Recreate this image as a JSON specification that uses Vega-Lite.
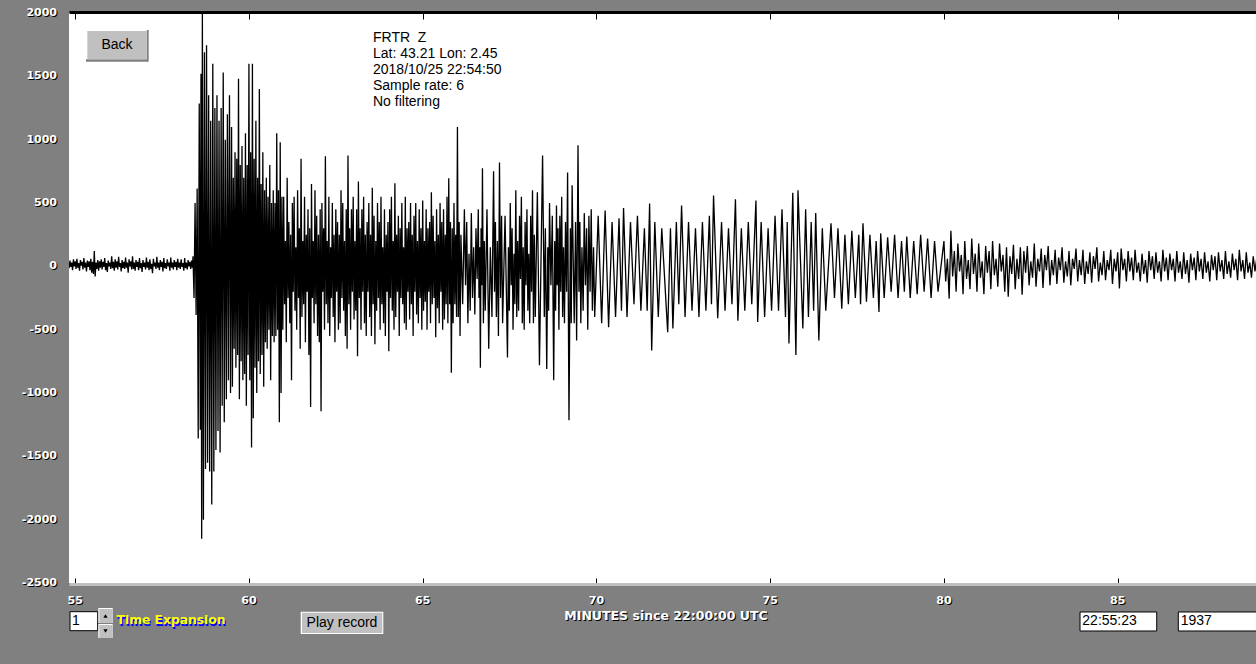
{
"$schema": "https://vega.github.io/schema/vega-lite/v6.json",
"autosize": {"type": "none"},
"padding": {"left": 69, "top": 13, "right": 0, "bottom": 81},
"width": 1187,
"height": 570,
"background": "#808080",
"config": {"view": {"fill": "#ffffff", "stroke": null}},
"datasets": {
"trace": [
{"t":54.8,"v":20},{"t":54.825,"v":-15},{"t":54.85,"v":45},{"t":54.875,"v":-5},{"t":54.9,"v":30},{"t":54.925,"v":-30},{"t":54.95,"v":55},{"t":54.975,"v":0},{"t":55.0,"v":40},{"t":55.025,"v":-20},{"t":55.05,"v":60},{"t":55.075,"v":-10},{"t":55.1,"v":25},{"t":55.125,"v":-35},{"t":55.15,"v":50},{"t":55.175,"v":5},{"t":55.2,"v":35},{"t":55.225,"v":-25},{"t":55.25,"v":65},{"t":55.275,"v":-10},{"t":55.3,"v":30},{"t":55.325,"v":-40},{"t":55.35,"v":45},{"t":55.375,"v":-5},{"t":55.4,"v":40},{"t":55.425,"v":-30},{"t":55.45,"v":60},{"t":55.475,"v":-50},{"t":55.5,"v":35},{"t":55.525,"v":-60},{"t":55.55,"v":120},{"t":55.575,"v":-80},{"t":55.6,"v":30},{"t":55.625,"v":-20},{"t":55.65,"v":50},{"t":55.675,"v":-35},{"t":55.7,"v":40},{"t":55.725,"v":-10},{"t":55.75,"v":55},{"t":55.775,"v":-25},{"t":55.8,"v":35},{"t":55.825,"v":-5},{"t":55.85,"v":65},{"t":55.875,"v":-30},{"t":55.9,"v":25},{"t":55.925,"v":-45},{"t":55.95,"v":45},{"t":55.975,"v":0},{"t":56.0,"v":30},{"t":56.025,"v":-20},{"t":56.05,"v":80},{"t":56.075,"v":-15},{"t":56.1,"v":35},{"t":56.125,"v":-35},{"t":56.15,"v":55},{"t":56.175,"v":-10},{"t":56.2,"v":40},{"t":56.225,"v":-25},{"t":56.25,"v":75},{"t":56.275,"v":-5},{"t":56.3,"v":25},{"t":56.325,"v":-40},{"t":56.35,"v":50},{"t":56.375,"v":-15},{"t":56.4,"v":35},{"t":56.425,"v":-20},{"t":56.45,"v":70},{"t":56.475,"v":-10},{"t":56.5,"v":30},{"t":56.525,"v":-50},{"t":56.55,"v":55},{"t":56.575,"v":0},{"t":56.6,"v":40},{"t":56.625,"v":-25},{"t":56.65,"v":80},{"t":56.675,"v":-20},{"t":56.7,"v":30},{"t":56.725,"v":-35},{"t":56.75,"v":50},{"t":56.775,"v":-5},{"t":56.8,"v":35},{"t":56.825,"v":-30},{"t":56.85,"v":65},{"t":56.875,"v":-15},{"t":56.9,"v":25},{"t":56.925,"v":-45},{"t":56.95,"v":50},{"t":56.975,"v":-5},{"t":57.0,"v":30},{"t":57.025,"v":-25},{"t":57.05,"v":70},{"t":57.075,"v":-10},{"t":57.1,"v":35},{"t":57.125,"v":-30},{"t":57.15,"v":55},{"t":57.175,"v":-20},{"t":57.2,"v":20},{"t":57.225,"v":-55},{"t":57.25,"v":60},{"t":57.275,"v":0},{"t":57.3,"v":30},{"t":57.325,"v":-20},{"t":57.35,"v":75},{"t":57.375,"v":-10},{"t":57.4,"v":30},{"t":57.425,"v":-30},{"t":57.45,"v":50},{"t":57.475,"v":-5},{"t":57.5,"v":35},{"t":57.525,"v":-40},{"t":57.55,"v":65},{"t":57.575,"v":-15},{"t":57.6,"v":25},{"t":57.625,"v":-20},{"t":57.65,"v":55},{"t":57.675,"v":0},{"t":57.7,"v":30},{"t":57.725,"v":-35},{"t":57.75,"v":70},{"t":57.775,"v":-10},{"t":57.8,"v":30},{"t":57.825,"v":-25},{"t":57.85,"v":50},{"t":57.875,"v":-5},{"t":57.9,"v":35},{"t":57.925,"v":-30},{"t":57.95,"v":60},{"t":57.975,"v":-10},{"t":58.0,"v":30},{"t":58.025,"v":-20},{"t":58.05,"v":55},{"t":58.075,"v":-5},{"t":58.1,"v":25},{"t":58.125,"v":-35},{"t":58.15,"v":65},{"t":58.175,"v":-15},{"t":58.2,"v":30},{"t":58.225,"v":-25},{"t":58.25,"v":50},{"t":58.275,"v":0},{"t":58.3,"v":35},{"t":58.325,"v":-20},{"t":58.35,"v":45},{"t":58.375,"v":-10},
{"t":58.39,"v":80},{"t":58.42,"v":-250},{"t":58.45,"v":500},{"t":58.48,"v":-385},{"t":58.51,"v":615},{"t":58.54,"v":-1360},{"t":58.57,"v":1285},{"t":58.6,"v":-1290},{"t":58.62,"v":1520},{"t":58.64,"v":-2150},{"t":58.66,"v":2000},{"t":58.69,"v":-2000},{"t":58.72,"v":1690},{"t":58.75,"v":-1600},{"t":58.78,"v":1745},{"t":58.81,"v":-1550},{"t":58.84,"v":1350},{"t":58.87,"v":-1620},{"t":58.9,"v":1150},{"t":58.93,"v":-1880},{"t":58.96,"v":1600},{"t":58.99,"v":-1620},{"t":59.02,"v":1250},{"t":59.05,"v":-1450},{"t":59.08,"v":1350},{"t":59.11,"v":-1300},{"t":59.14,"v":1150},{"t":59.17,"v":-1470},{"t":59.2,"v":1250},{"t":59.23,"v":-1100},{"t":59.26,"v":1530},{"t":59.29,"v":-1230},{"t":59.32,"v":1000},{"t":59.35,"v":-1050},{"t":59.38,"v":1200},{"t":59.41,"v":-900},{"t":59.44,"v":1350},{"t":59.47,"v":-1000},
{"t":59.5,"v":1100},{"t":59.525,"v":-950},{"t":59.55,"v":700},{"t":59.575,"v":-650},{"t":59.6,"v":900},{"t":59.625,"v":-800},{"t":59.65,"v":850},{"t":59.675,"v":-700},{"t":59.7,"v":1480},{"t":59.725,"v":-1050},{"t":59.75,"v":800},{"t":59.775,"v":-750},{"t":59.8,"v":950},{"t":59.825,"v":-900},{"t":59.85,"v":700},{"t":59.875,"v":-850},{"t":59.9,"v":1050},{"t":59.925,"v":-1100},{"t":59.95,"v":800},{"t":59.975,"v":-700},
{"t":60.0,"v":1600},{"t":60.025,"v":-900},{"t":60.05,"v":900},{"t":60.075,"v":-1430},{"t":60.1,"v":1600},{"t":60.125,"v":-1200},{"t":60.15,"v":850},{"t":60.175,"v":-800},{"t":60.2,"v":1150},{"t":60.225,"v":-1000},{"t":60.25,"v":700},{"t":60.275,"v":-750},{"t":60.3,"v":1400},{"t":60.325,"v":-850},{"t":60.35,"v":650},{"t":60.375,"v":-700},{"t":60.4,"v":900},{"t":60.425,"v":-950},{"t":60.45,"v":600},{"t":60.475,"v":-600},{"t":60.5,"v":700},{"t":60.525,"v":-650},{"t":60.55,"v":550},{"t":60.575,"v":-500},{"t":60.6,"v":800},{"t":60.625,"v":-900},{"t":60.65,"v":500},{"t":60.675,"v":-550},{"t":60.7,"v":600},{"t":60.725,"v":-600},{"t":60.75,"v":500},{"t":60.775,"v":-550},{"t":60.8,"v":1050},{"t":60.825,"v":-500},{"t":60.85,"v":600},{"t":60.875,"v":-1230},{"t":60.9,"v":980},{"t":60.925,"v":-1000},{"t":60.95,"v":550},{"t":60.975,"v":-500},
{"t":61.0,"v":550},{"t":61.025,"v":-300},{"t":61.05,"v":200},{"t":61.075,"v":-600},{"t":61.1,"v":700},{"t":61.125,"v":-250},{"t":61.15,"v":350},{"t":61.175,"v":-450},{"t":61.2,"v":250},{"t":61.225,"v":-900},{"t":61.25,"v":500},{"t":61.275,"v":-200},{"t":61.3,"v":550},{"t":61.325,"v":-350},{"t":61.35,"v":150},{"t":61.375,"v":-500},{"t":61.4,"v":600},{"t":61.425,"v":-250},{"t":61.45,"v":300},{"t":61.475,"v":-650},{"t":61.5,"v":850},{"t":61.525,"v":-400},{"t":61.55,"v":200},{"t":61.575,"v":-300},{"t":61.6,"v":550},{"t":61.625,"v":-600},{"t":61.65,"v":250},{"t":61.675,"v":-200},{"t":61.7,"v":450},{"t":61.725,"v":-700},{"t":61.75,"v":300},{"t":61.775,"v":-1110},{"t":61.8,"v":650},{"t":61.825,"v":-250},{"t":61.85,"v":200},{"t":61.875,"v":-450},{"t":61.9,"v":600},{"t":61.925,"v":-300},{"t":61.95,"v":400},{"t":61.975,"v":-550},
{"t":62.0,"v":250},{"t":62.025,"v":-600},{"t":62.05,"v":450},{"t":62.075,"v":-1145},{"t":62.1,"v":500},{"t":62.125,"v":-200},{"t":62.15,"v":300},{"t":62.175,"v":-500},{"t":62.2,"v":870},{"t":62.225,"v":-300},{"t":62.25,"v":200},{"t":62.275,"v":-450},{"t":62.3,"v":550},{"t":62.325,"v":-550},{"t":62.35,"v":150},{"t":62.375,"v":-250},{"t":62.4,"v":500},{"t":62.425,"v":-400},{"t":62.45,"v":250},{"t":62.475,"v":-600},{"t":62.5,"v":450},{"t":62.525,"v":-200},{"t":62.55,"v":350},{"t":62.575,"v":-500},{"t":62.6,"v":250},{"t":62.625,"v":-450},{"t":62.65,"v":600},{"t":62.675,"v":-250},{"t":62.7,"v":500},{"t":62.725,"v":-350},{"t":62.75,"v":200},{"t":62.775,"v":-550},{"t":62.8,"v":450},{"t":62.825,"v":-650},{"t":62.85,"v":875},{"t":62.875,"v":-300},{"t":62.9,"v":300},{"t":62.925,"v":-500},{"t":62.95,"v":450},{"t":62.975,"v":-200},
{"t":63.0,"v":550},{"t":63.025,"v":-420},{"t":63.05,"v":200},{"t":63.075,"v":-350},{"t":63.1,"v":450},{"t":63.125,"v":-710},{"t":63.15,"v":670},{"t":63.175,"v":-250},{"t":63.2,"v":300},{"t":63.225,"v":-500},{"t":63.25,"v":450},{"t":63.275,"v":-200},{"t":63.3,"v":550},{"t":63.325,"v":-450},{"t":63.35,"v":250},{"t":63.375,"v":-550},{"t":63.4,"v":350},{"t":63.425,"v":-200},{"t":63.45,"v":500},{"t":63.475,"v":-400},{"t":63.5,"v":250},{"t":63.525,"v":-550},{"t":63.55,"v":620},{"t":63.575,"v":-300},{"t":63.6,"v":400},{"t":63.625,"v":-615},{"t":63.65,"v":200},{"t":63.675,"v":-350},{"t":63.7,"v":500},{"t":63.725,"v":-250},{"t":63.75,"v":350},{"t":63.775,"v":-500},{"t":63.8,"v":550},{"t":63.825,"v":-300},{"t":63.85,"v":150},{"t":63.875,"v":-450},{"t":63.9,"v":450},{"t":63.925,"v":-550},{"t":63.95,"v":250},{"t":63.975,"v":-200},
{"t":64.0,"v":350},{"t":64.025,"v":-670},{"t":64.05,"v":450},{"t":64.075,"v":-250},{"t":64.1,"v":550},{"t":64.125,"v":-350},{"t":64.15,"v":200},{"t":64.175,"v":-500},{"t":64.2,"v":655},{"t":64.225,"v":-400},{"t":64.25,"v":250},{"t":64.275,"v":-200},{"t":64.3,"v":400},{"t":64.325,"v":-550},{"t":64.35,"v":300},{"t":64.375,"v":-250},{"t":64.4,"v":500},{"t":64.425,"v":-300},{"t":64.45,"v":150},{"t":64.475,"v":-450},{"t":64.5,"v":550},{"t":64.525,"v":-500},{"t":64.55,"v":300},{"t":64.575,"v":-200},{"t":64.6,"v":350},{"t":64.625,"v":-420},{"t":64.65,"v":500},{"t":64.675,"v":-300},{"t":64.7,"v":250},{"t":64.725,"v":-550},{"t":64.75,"v":400},{"t":64.775,"v":-200},{"t":64.8,"v":500},{"t":64.825,"v":-380},{"t":64.85,"v":200},{"t":64.875,"v":-450},{"t":64.9,"v":450},{"t":64.925,"v":-250},{"t":64.95,"v":300},{"t":64.975,"v":-500},
{"t":65.0,"v":520},{"t":65.025,"v":-350},{"t":65.05,"v":200},{"t":65.075,"v":-280},{"t":65.1,"v":450},{"t":65.125,"v":-500},{"t":65.15,"v":300},{"t":65.175,"v":-200},{"t":65.2,"v":350},{"t":65.225,"v":-450},{"t":65.25,"v":585},{"t":65.275,"v":-300},{"t":65.3,"v":400},{"t":65.325,"v":-250},{"t":65.35,"v":200},{"t":65.375,"v":-560},{"t":65.4,"v":450},{"t":65.425,"v":-330},{"t":65.45,"v":250},{"t":65.475,"v":-450},{"t":65.5,"v":500},{"t":65.525,"v":-200},{"t":65.55,"v":350},{"t":65.575,"v":-500},{"t":65.6,"v":450},{"t":65.625,"v":-420},{"t":65.65,"v":250},{"t":65.675,"v":-300},{"t":65.7,"v":550},{"t":65.725,"v":-450},{"t":65.75,"v":695},{"t":65.775,"v":-300},{"t":65.8,"v":350},{"t":65.825,"v":-840},{"t":65.85,"v":300},{"t":65.875,"v":-450},{"t":65.9,"v":500},{"t":65.925,"v":-300},{"t":65.95,"v":250},{"t":65.975,"v":-400},
{"t":66.0,"v":1100},{"t":66.025,"v":-400},{"t":66.05,"v":350},{"t":66.075,"v":-550},{"t":66.1,"v":250},{"t":66.15,"v":-300},{"t":66.2,"v":450},{"t":66.233,"v":-150},{"t":66.267,"v":350},{"t":66.3,"v":-450},{"t":66.333,"v":100},{"t":66.367,"v":-350},{"t":66.4,"v":420},{"t":66.433,"v":-250},{"t":66.467,"v":150},{"t":66.5,"v":-380},{"t":66.533,"v":300},{"t":66.567,"v":-100},{"t":66.6,"v":450},{"t":66.62,"v":-250},{"t":66.64,"v":150},{"t":66.66,"v":-800},{"t":66.68,"v":300},{"t":66.7,"v":-150},{"t":66.72,"v":775},{"t":66.747,"v":-450},{"t":66.773,"v":200},{"t":66.8,"v":-350},{"t":66.85,"v":450},{"t":66.9,"v":-650},{"t":66.947,"v":150},{"t":66.993,"v":-400},{"t":67.04,"v":750},{"t":67.067,"v":-200},{"t":67.093,"v":350},{"t":67.12,"v":-400},{"t":67.15,"v":200},{"t":67.18,"v":-550},{"t":67.21,"v":820},{"t":67.24,"v":-250},{"t":67.27,"v":400},{"t":67.3,"v":-450},{"t":67.37,"v":400},{"t":67.44,"v":-720},{"t":67.467,"v":150},{"t":67.493,"v":-350},{"t":67.52,"v":500},{"t":67.547,"v":-150},{"t":67.573,"v":300},{"t":67.6,"v":-500},{"t":67.627,"v":100},{"t":67.653,"v":-300},{"t":67.68,"v":600},{"t":67.707,"v":-400},{"t":67.733,"v":200},{"t":67.76,"v":-350},{"t":67.787,"v":400},{"t":67.813,"v":-100},{"t":67.84,"v":550},{"t":67.867,"v":-450},{"t":67.893,"v":150},{"t":67.92,"v":-500},{"t":67.947,"v":350},{"t":67.973,"v":-150},
{"t":68.0,"v":450},{"t":68.027,"v":-350},{"t":68.053,"v":100},{"t":68.08,"v":-450},{"t":68.107,"v":400},{"t":68.133,"v":-200},{"t":68.16,"v":600},{"t":68.187,"v":-450},{"t":68.213,"v":250},{"t":68.24,"v":-400},{"t":68.3,"v":585},{"t":68.36,"v":-780},{"t":68.45,"v":875},{"t":68.5,"v":-400},{"t":68.53,"v":300},{"t":68.57,"v":-810},{"t":68.6,"v":150},{"t":68.625,"v":-350},{"t":68.65,"v":500},{"t":68.69,"v":-150},{"t":68.73,"v":400},{"t":68.77,"v":-900},{"t":68.8,"v":200},{"t":68.825,"v":-350},{"t":68.85,"v":480},{"t":68.87,"v":-150},{"t":68.895,"v":300},{"t":68.92,"v":-500},{"t":68.947,"v":400},{"t":68.973,"v":-200},
{"t":69.0,"v":550},{"t":69.027,"v":-400},{"t":69.053,"v":150},{"t":69.08,"v":-450},{"t":69.11,"v":350},{"t":69.14,"v":-200},{"t":69.17,"v":740},{"t":69.21,"v":-1215},{"t":69.25,"v":300},{"t":69.275,"v":-450},{"t":69.3,"v":640},{"t":69.36,"v":-450},{"t":69.4,"v":350},{"t":69.43,"v":-585},{"t":69.47,"v":955},{"t":69.497,"v":-200},{"t":69.523,"v":350},{"t":69.55,"v":-450},{"t":69.583,"v":150},{"t":69.617,"v":-350},{"t":69.65,"v":420},{"t":69.683,"v":-150},{"t":69.717,"v":300},{"t":69.75,"v":-500},{"t":69.783,"v":400},{"t":69.817,"v":-200},{"t":69.85,"v":450},{"t":69.883,"v":-350},{"t":69.917,"v":150},{"t":69.95,"v":-400},
{"t":70.05,"v":400},{"t":70.15,"v":-450},{"t":70.25,"v":440},{"t":70.35,"v":-480},{"t":70.45,"v":350},{"t":70.55,"v":-400},{"t":70.65,"v":380},{"t":70.72,"v":-350},{"t":70.78,"v":460},{"t":70.88,"v":-400},{"t":70.98,"v":350},{"t":71.08,"v":-300},{"t":71.18,"v":400},{"t":71.28,"v":-350},{"t":71.38,"v":300},{"t":71.46,"v":-350},{"t":71.53,"v":495},{"t":71.59,"v":-665},{"t":71.68,"v":350},{"t":71.78,"v":-400},{"t":71.88,"v":300},{"t":72.05,"v":-520},{"t":72.13,"v":300},{"t":72.2,"v":-490},{"t":72.3,"v":350},{"t":72.37,"v":-300},{"t":72.45,"v":480},{"t":72.55,"v":-400},{"t":72.65,"v":350},{"t":72.75,"v":-350},{"t":72.85,"v":300},{"t":72.95,"v":-400},{"t":73.05,"v":350},{"t":73.15,"v":-350},{"t":73.25,"v":400},{"t":73.31,"v":-300},{"t":73.37,"v":560},{"t":73.49,"v":-410},{"t":73.6,"v":350},{"t":73.7,"v":-350},{"t":73.8,"v":300},{"t":73.9,"v":-300},{"t":74.0,"v":530},{"t":74.07,"v":-430},{"t":74.17,"v":300},{"t":74.27,"v":-350},{"t":74.37,"v":350},{"t":74.47,"v":-300},{"t":74.59,"v":520},{"t":74.64,"v":-440},{"t":74.74,"v":350},{"t":74.84,"v":-400},{"t":74.94,"v":300},
{"t":75.04,"v":-350},{"t":75.14,"v":400},{"t":75.24,"v":-350},{"t":75.34,"v":450},{"t":75.44,"v":-400},{"t":75.49,"v":350},{"t":75.54,"v":-610},{"t":75.65,"v":580},{"t":75.74,"v":-700},{"t":75.8,"v":600},{"t":75.94,"v":-490},{"t":76.02,"v":450},{"t":76.1,"v":-400},{"t":76.18,"v":350},{"t":76.25,"v":-350},{"t":76.31,"v":420},{"t":76.4,"v":-585},{"t":76.5,"v":300},{"t":76.6,"v":-350},{"t":76.75,"v":340},{"t":76.85,"v":-250},{"t":76.95,"v":300},{"t":77.06,"v":-335},{"t":77.15,"v":250},{"t":77.25,"v":-300},{"t":77.35,"v":280},{"t":77.45,"v":-250},{"t":77.55,"v":250},{"t":77.6,"v":-300},{"t":77.67,"v":340},{"t":77.77,"v":-280},{"t":77.87,"v":250},{"t":77.97,"v":-250},{"t":78.05,"v":200},{"t":78.13,"v":-360},{"t":78.18,"v":260},{"t":78.28,"v":-250},{"t":78.38,"v":230},{"t":78.48,"v":-200},{"t":78.58,"v":250},{"t":78.68,"v":-250},{"t":78.78,"v":200},{"t":78.86,"v":-200},{"t":78.93,"v":235},{"t":79.03,"v":-250},{"t":79.13,"v":200},{"t":79.23,"v":-220},{"t":79.33,"v":250},{"t":79.43,"v":-200},{"t":79.53,"v":220},{"t":79.63,"v":-250},{"t":79.73,"v":200},{"t":79.83,"v":-200},
{"t":80.0,"v":200},{"t":80.05,"v":-120},{"t":80.1,"v":60},{"t":80.15,"v":-255},{"t":80.2,"v":280},{"t":80.25,"v":-80},{"t":80.3,"v":120},{"t":80.35,"v":-200},{"t":80.4,"v":180},{"t":80.45,"v":-40},{"t":80.5,"v":90},{"t":80.55,"v":-220},{"t":80.6,"v":200},{"t":80.65,"v":-100},{"t":80.7,"v":50},{"t":80.75,"v":-180},{"t":80.8,"v":220},{"t":80.85,"v":-60},{"t":80.9,"v":100},{"t":80.95,"v":-200},
{"t":81.0,"v":180},{"t":81.05,"v":-90},{"t":81.1,"v":40},{"t":81.15,"v":-220},{"t":81.2,"v":160},{"t":81.25,"v":-50},{"t":81.3,"v":120},{"t":81.35,"v":-180},{"t":81.4,"v":200},{"t":81.45,"v":-70},{"t":81.5,"v":60},{"t":81.55,"v":-160},{"t":81.6,"v":180},{"t":81.65,"v":-40},{"t":81.7,"v":90},{"t":81.75,"v":-200},{"t":81.8,"v":150},{"t":81.85,"v":-240},{"t":81.9,"v":80},{"t":81.95,"v":-60},
{"t":82.0,"v":170},{"t":82.05,"v":-180},{"t":82.1,"v":60},{"t":82.15,"v":-100},{"t":82.2,"v":150},{"t":82.25,"v":-225},{"t":82.3,"v":120},{"t":82.35,"v":-50},{"t":82.4,"v":160},{"t":82.45,"v":-150},{"t":82.5,"v":40},{"t":82.55,"v":-90},{"t":82.6,"v":180},{"t":82.65,"v":-160},{"t":82.7,"v":60},{"t":82.75,"v":-40},{"t":82.8,"v":140},{"t":82.85,"v":-170},{"t":82.9,"v":90},{"t":82.95,"v":-30},
{"t":83.0,"v":160},{"t":83.05,"v":-150},{"t":83.1,"v":50},{"t":83.15,"v":-70},{"t":83.2,"v":130},{"t":83.25,"v":-140},{"t":83.3,"v":70},{"t":83.35,"v":-30},{"t":83.4,"v":150},{"t":83.45,"v":-130},{"t":83.5,"v":40},{"t":83.55,"v":-80},{"t":83.6,"v":120},{"t":83.65,"v":-150},{"t":83.7,"v":60},{"t":83.75,"v":-20},{"t":83.8,"v":140},{"t":83.85,"v":-120},{"t":83.9,"v":50},{"t":83.95,"v":-70},
{"t":84.0,"v":130},{"t":84.05,"v":-140},{"t":84.1,"v":40},{"t":84.15,"v":-60},{"t":84.2,"v":110},{"t":84.25,"v":-130},{"t":84.3,"v":80},{"t":84.35,"v":-20},{"t":84.4,"v":150},{"t":84.45,"v":-120},{"t":84.5,"v":30},{"t":84.55,"v":-70},{"t":84.6,"v":120},{"t":84.65,"v":-110},{"t":84.7,"v":50},{"t":84.75,"v":-30},{"t":84.8,"v":130},{"t":84.85,"v":-140},{"t":84.9,"v":60},{"t":84.95,"v":-40},
{"t":85.0,"v":110},{"t":85.05,"v":-175},{"t":85.1,"v":140},{"t":85.15,"v":-30},{"t":85.2,"v":60},{"t":85.25,"v":-120},{"t":85.3,"v":120},{"t":85.35,"v":-40},{"t":85.4,"v":70},{"t":85.45,"v":-110},{"t":85.5,"v":130},{"t":85.55,"v":-50},{"t":85.6,"v":30},{"t":85.65,"v":-120},{"t":85.7,"v":100},{"t":85.75,"v":-60},{"t":85.8,"v":50},{"t":85.85,"v":-130},{"t":85.9,"v":120},{"t":85.95,"v":-30},
{"t":86.0,"v":80},{"t":86.05,"v":-100},{"t":86.1,"v":110},{"t":86.15,"v":-50},{"t":86.2,"v":40},{"t":86.25,"v":-120},{"t":86.3,"v":130},{"t":86.35,"v":-40},{"t":86.4,"v":70},{"t":86.45,"v":-110},{"t":86.5,"v":100},{"t":86.55,"v":-30},{"t":86.6,"v":60},{"t":86.65,"v":-120},{"t":86.7,"v":120},{"t":86.75,"v":-50},{"t":86.8,"v":40},{"t":86.85,"v":-100},{"t":86.9,"v":110},{"t":86.95,"v":-60},
{"t":87.0,"v":50},{"t":87.05,"v":-130},{"t":87.1,"v":100},{"t":87.15,"v":-30},{"t":87.2,"v":70},{"t":87.25,"v":-110},{"t":87.3,"v":120},{"t":87.35,"v":-40},{"t":87.4,"v":60},{"t":87.45,"v":-100},{"t":87.5,"v":110},{"t":87.55,"v":-50},{"t":87.6,"v":40},{"t":87.65,"v":-120},{"t":87.7,"v":90},{"t":87.75,"v":-30},{"t":87.8,"v":80},{"t":87.85,"v":-110},{"t":87.9,"v":110},{"t":87.95,"v":-40},
{"t":88.0,"v":50},{"t":88.05,"v":-100},{"t":88.1,"v":120},{"t":88.15,"v":-60},{"t":88.2,"v":40},{"t":88.25,"v":-90},{"t":88.3,"v":100},{"t":88.35,"v":-30},{"t":88.4,"v":60},{"t":88.45,"v":-110},{"t":88.5,"v":130},{"t":88.55,"v":-40},{"t":88.6,"v":50},{"t":88.65,"v":-100},{"t":88.7,"v":110},{"t":88.75,"v":-50},{"t":88.8,"v":30},{"t":88.85,"v":-90},{"t":88.9,"v":80},{"t":88.95,"v":-40},{"t":89.0,"v":60}
],
"xticks": [{"tick":55,"label":"55"},{"tick":60,"label":"60"},{"tick":65,"label":"65"},{"tick":70,"label":"70"},{"tick":75,"label":"75"},{"tick":80,"label":"80"},{"tick":85,"label":"85"}],
"yticks": [{"tick":-2500,"label":"-2500"},{"tick":-2000,"label":"-2000"},{"tick":-1500,"label":"-1500"},{"tick":-1000,"label":"-1000"},{"tick":-500,"label":"-500"},{"tick":0,"label":"0"},{"tick":500,"label":"500"},{"tick":1000,"label":"1000"},{"tick":1500,"label":"1500"},{"tick":2000,"label":"2000"}]
},
"layer": [
{"data": {"name": "trace"},
 "mark": {"type": "line", "color": "#000000", "strokeWidth": 1.3, "clip": true},
 "encoding": {
  "x": {"field": "t", "type": "quantitative", "scale": {"domain": [54.822, 88.98], "nice": false, "zero": false},
        "axis": {"orient": "bottom", "values": [55,60,65,70,75,80,85], "labels": false, "title": null, "grid": false, "domainColor": "#c0c0c0", "domainWidth": 3, "offset": 1, "tickSize": -6, "tickColor": "#000000", "tickWidth": 1}},
  "y": {"field": "v", "type": "quantitative", "scale": {"domain": [-2500, 2000], "nice": false, "zero": false},
        "axis": {"values": [-2500,-2000,-1500,-1000,-500,0,500,1000,1500,2000], "labels": false, "title": null, "grid": false, "domainColor": "#000000", "domainWidth": 3, "offset": 1, "tickSize": -8, "tickColor": "#000000", "tickWidth": 1}}
 }},
{"data": {"name": "xticks"},
 "mark": {"type": "point", "opacity": 0},
 "encoding": {
  "x": {"field": "tick", "type": "quantitative", "axis": {"orient": "top", "values": [55,60,65,70,75,80,85], "labels": false, "title": null, "grid": false, "domainColor": "#000000", "domainWidth": 3, "offset": 1, "tickSize": -7, "tickColor": "#000000", "tickWidth": 1}},
  "y": {"datum": 0, "type": "quantitative", "axis": null}
 }},
{"data": {"name": "yticks"},
 "mark": {"type": "text", "align": "right", "baseline": "middle", "font": "DejaVu Sans", "fontWeight": "bold", "fontSize": 11, "color": "#000000", "dx": -11, "dy": 1},
 "encoding": {"x": {"datum": 54.822, "type": "quantitative", "axis": null}, "y": {"field": "tick", "type": "quantitative", "axis": null}, "text": {"field": "label"}}},
{"data": {"name": "yticks"},
 "mark": {"type": "text", "align": "right", "baseline": "middle", "font": "DejaVu Sans", "fontWeight": "bold", "fontSize": 11, "color": "#ffffff", "dx": -12, "dy": 0},
 "encoding": {"x": {"datum": 54.822, "type": "quantitative", "axis": null}, "y": {"field": "tick", "type": "quantitative", "axis": null}, "text": {"field": "label"}}},
{"data": {"name": "xticks"},
 "mark": {"type": "text", "align": "center", "baseline": "middle", "font": "DejaVu Sans", "fontWeight": "bold", "fontSize": 11, "color": "#000000", "dx": 1, "dy": 19},
 "encoding": {"x": {"field": "tick", "type": "quantitative", "axis": null}, "y": {"datum": -2500, "type": "quantitative", "axis": null}, "text": {"field": "label"}}},
{"data": {"name": "xticks"},
 "mark": {"type": "text", "align": "center", "baseline": "middle", "font": "DejaVu Sans", "fontWeight": "bold", "fontSize": 11, "color": "#ffffff", "dx": 0, "dy": 18},
 "encoding": {"x": {"field": "tick", "type": "quantitative", "axis": null}, "y": {"datum": -2500, "type": "quantitative", "axis": null}, "text": {"field": "label"}}},
{"data": {"values": [{}]},
 "mark": {"type": "text", "align": "center", "baseline": "middle", "font": "DejaVu Sans", "fontWeight": "bold", "fontSize": 12.5, "color": "#000000", "dx": 1, "dy": 1, "text": "MINUTES since 22:00:00 UTC"},
 "encoding": {"x": {"datum": 72.002, "type": "quantitative", "axis": null}, "y": {"datum": -2760, "type": "quantitative", "axis": null}}},
{"data": {"values": [{}]},
 "mark": {"type": "text", "align": "center", "baseline": "middle", "font": "DejaVu Sans", "fontWeight": "bold", "fontSize": 12.5, "color": "#ffffff", "text": "MINUTES since 22:00:00 UTC"},
 "encoding": {"x": {"datum": 72.002, "type": "quantitative", "axis": null}, "y": {"datum": -2760, "type": "quantitative", "axis": null}}},
{"data": {"values": [{}]},
 "mark": {"type": "text", "align": "left", "baseline": "middle", "font": "Liberation Sans", "fontSize": 14, "lineHeight": 16, "color": "#000000", "text": ["FRTR\u00a0\u00a0Z", "Lat: 43.21 Lon: 2.45", "2018/10/25 22:54:50", "Sample rate: 6", "No filtering"]},
 "encoding": {"x": {"datum": 63.57, "type": "quantitative", "axis": null}, "y": {"datum": 1800, "type": "quantitative", "axis": null}}},
{"data": {"values": [{}]},
 "mark": {"type": "rect", "color": "#808080"},
 "encoding": {"x": {"datum": 55.311, "type": "quantitative", "axis": null}, "x2": {"datum": 57.115}, "y": {"datum": 1865.8, "type": "quantitative", "axis": null}, "y2": {"datum": 1615.5}}},
{"data": {"values": [{}]},
 "mark": {"type": "rect", "color": "#ffffff"},
 "encoding": {"x": {"datum": 55.311, "type": "quantitative", "axis": null}, "x2": {"datum": 57.058}, "y": {"datum": 1865.8, "type": "quantitative", "axis": null}, "y2": {"datum": 1634.5}}},
{"data": {"values": [{}]},
 "mark": {"type": "rect", "color": "#c0c0c0"},
 "encoding": {"x": {"datum": 55.349, "type": "quantitative", "axis": null}, "x2": {"datum": 57.058}, "y": {"datum": 1857.9, "type": "quantitative", "axis": null}, "y2": {"datum": 1634.5}}},
{"data": {"values": [{}]},
 "mark": {"type": "text", "align": "center", "baseline": "middle", "font": "Liberation Sans", "fontSize": 14, "color": "#000000", "text": "Back"},
 "encoding": {"x": {"datum": 56.203, "type": "quantitative", "axis": null}, "y": {"datum": 1747, "type": "quantitative", "axis": null}}},
{"data": {"values": [{}]},
 "mark": {"type": "rect", "color": "#ffffff"},
 "encoding": {"x": {"datum": 61.49, "type": "quantitative", "axis": null}, "x2": {"datum": 63.867}, "y": {"datum": -2726.6, "type": "quantitative", "axis": null}, "y2": {"datum": -2902.6}}},
{"data": {"values": [{}]},
 "mark": {"type": "rect", "color": "#c0c0c0"},
 "encoding": {"x": {"datum": 61.527, "type": "quantitative", "axis": null}, "x2": {"datum": 63.838}, "y": {"datum": -2734.5, "type": "quantitative", "axis": null}, "y2": {"datum": -2894.7}}},
{"data": {"values": [{}]},
 "mark": {"type": "text", "align": "center", "baseline": "middle", "font": "Liberation Sans", "fontSize": 14, "color": "#000000", "text": "Play record"},
 "encoding": {"x": {"datum": 62.678, "type": "quantitative", "axis": null}, "y": {"datum": -2815.8, "type": "quantitative", "axis": null}}},
{"data": {"values": [{}]},
 "mark": {"type": "rect", "color": "#ffffff", "stroke": "#000000", "strokeWidth": 1},
 "encoding": {"x": {"datum": 54.851, "type": "quantitative", "axis": null}, "x2": {"datum": 55.648}, "y": {"datum": -2726.6, "type": "quantitative", "axis": null}, "y2": {"datum": -2876.6}}},
{"data": {"values": [{}]},
 "mark": {"type": "text", "align": "left", "baseline": "middle", "font": "Liberation Sans", "fontSize": 14, "color": "#000000", "text": "1"},
 "encoding": {"x": {"datum": 54.908, "type": "quantitative", "axis": null}, "y": {"datum": -2800, "type": "quantitative", "axis": null}}},
{"data": {"values": [{}]},
 "mark": {"type": "rect", "color": "#ffffff"},
 "encoding": {"x": {"datum": 55.665, "type": "quantitative", "axis": null}, "x2": {"datum": 56.08}, "y": {"datum": -2697.4, "type": "quantitative", "axis": null}, "y2": {"datum": -2815.8}}},
{"data": {"values": [{}]},
 "mark": {"type": "rect", "color": "#c0c0c0"},
 "encoding": {"x": {"datum": 55.694, "type": "quantitative", "axis": null}, "x2": {"datum": 56.08}, "y": {"datum": -2705.3, "type": "quantitative", "axis": null}, "y2": {"datum": -2815.8}}},
{"data": {"values": [{}]},
 "mark": {"type": "rect", "color": "#ffffff"},
 "encoding": {"x": {"datum": 55.665, "type": "quantitative", "axis": null}, "x2": {"datum": 56.08}, "y": {"datum": -2823.7, "type": "quantitative", "axis": null}, "y2": {"datum": -2934.2}}},
{"data": {"values": [{}]},
 "mark": {"type": "rect", "color": "#c0c0c0"},
 "encoding": {"x": {"datum": 55.694, "type": "quantitative", "axis": null}, "x2": {"datum": 56.08}, "y": {"datum": -2831.6, "type": "quantitative", "axis": null}, "y2": {"datum": -2934.2}}},
{"data": {"values": [{}]},
 "mark": {"type": "point", "shape": "triangle-up", "size": 18, "filled": true, "color": "#000000", "opacity": 1},
 "encoding": {"x": {"datum": 55.872, "type": "quantitative", "axis": null}, "y": {"datum": -2760.5, "type": "quantitative", "axis": null}}},
{"data": {"values": [{}]},
 "mark": {"type": "point", "shape": "triangle-down", "size": 18, "filled": true, "color": "#000000", "opacity": 1},
 "encoding": {"x": {"datum": 55.872, "type": "quantitative", "axis": null}, "y": {"datum": -2878.9, "type": "quantitative", "axis": null}}},
{"data": {"values": [{}]},
 "mark": {"type": "text", "align": "left", "baseline": "middle", "font": "DejaVu Sans", "fontWeight": "bold", "fontSize": 12.3, "color": "#0000ff", "dx": 1, "dy": 2, "text": "Time Expansion"},
 "encoding": {"x": {"datum": 56.191, "type": "quantitative", "axis": null}, "y": {"datum": -2792, "type": "quantitative", "axis": null}}},
{"data": {"values": [{}]},
 "mark": {"type": "text", "align": "left", "baseline": "middle", "font": "DejaVu Sans", "fontWeight": "bold", "fontSize": 12.3, "color": "#ffff00", "text": "Time Expansion"},
 "encoding": {"x": {"datum": 56.191, "type": "quantitative", "axis": null}, "y": {"datum": -2792, "type": "quantitative", "axis": null}}},
{"data": {"values": [{}]},
 "mark": {"type": "rect", "color": "#ffffff", "stroke": "#000000", "strokeWidth": 1},
 "encoding": {"x": {"datum": 83.916, "type": "quantitative", "axis": null}, "x2": {"datum": 86.123}, "y": {"datum": -2728.9, "type": "quantitative", "axis": null}, "y2": {"datum": -2878.9}}},
{"data": {"values": [{}]},
 "mark": {"type": "text", "align": "left", "baseline": "middle", "font": "Liberation Sans", "fontSize": 14, "color": "#000000", "text": "22:55:23"},
 "encoding": {"x": {"datum": 83.982, "type": "quantitative", "axis": null}, "y": {"datum": -2800, "type": "quantitative", "axis": null}}},
{"data": {"values": [{}]},
 "mark": {"type": "rect", "color": "#ffffff", "stroke": "#000000", "strokeWidth": 1},
 "encoding": {"x": {"datum": 86.744, "type": "quantitative", "axis": null}, "x2": {"datum": 89.2}, "y": {"datum": -2728.9, "type": "quantitative", "axis": null}, "y2": {"datum": -2878.9}}},
{"data": {"values": [{}]},
 "mark": {"type": "text", "align": "left", "baseline": "middle", "font": "Liberation Sans", "fontSize": 14, "color": "#000000", "text": "1937"},
 "encoding": {"x": {"datum": 86.813, "type": "quantitative", "axis": null}, "y": {"datum": -2800, "type": "quantitative", "axis": null}}}
],
"resolve": {"axis": {"x": "independent"}}
}
